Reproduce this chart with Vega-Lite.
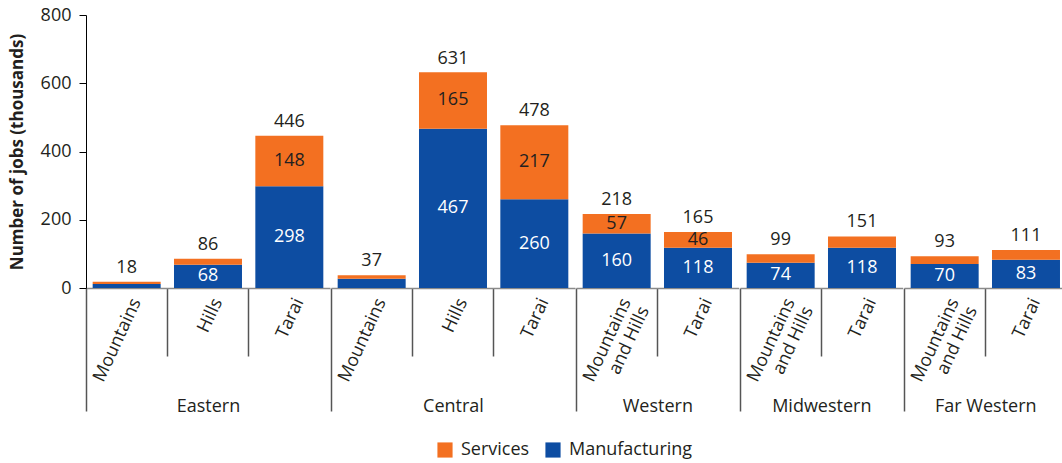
{
  "$schema": "https://vega.github.io/schema/vega-lite/v6.json",
  "padding": {"left": 8, "top": 6, "right": 0, "bottom": 0},
  "spacing": 0,
  "config": {
    "font": "Open Sans",
    "view": {"stroke": null},
    "axis": {"labelColor": "#231F20", "titleColor": "#231F20"},
    "axisX": {
      "labelFontSize": 18, "labelAngle": -65, "labelAlign": "right", "labelBaseline": "middle",
      "labelLineHeight": 20, "labelOffset": 10,
      "tickSize": {"condition": {"test": "indexof(['Mountains', 'Mountains and Hills'], datum.value) >= 0", "value": 123}, "value": 68},
      "labelPadding": {"condition": {"test": "indexof(['Mountains', 'Mountains and Hills'], datum.value) >= 0", "value": -112}, "value": -57},
      "tickColor": "#555555", "tickWidth": 1.5, "bandPosition": 0,
      "domainColor": "#8a8a8a", "domainWidth": 1.5,
      "titleFontSize": 18, "titleFontWeight": "normal", "titleBaseline": "alphabetic", "titleY": 123,
      "labelExpr": "datum.value == 'Mountains and Hills' ? ['Mountains', 'and Hills'] : datum.label"
    },
    "legend": {"labelFontSize": 18, "labelColor": "#231F20", "symbolType": "square", "symbolSize": 230, "symbolStrokeWidth": 0, "columnPadding": 14, "labelOffset": 7}
  },
  "data": {"values": [
    {"region": "Eastern", "area": "Mountains", "sector": "Manufacturing", "jobs": 12, "total": 18},
    {"region": "Eastern", "area": "Mountains", "sector": "Services", "jobs": 6, "total": 18},
    {"region": "Eastern", "area": "Hills", "sector": "Manufacturing", "jobs": 68, "total": 86},
    {"region": "Eastern", "area": "Hills", "sector": "Services", "jobs": 18, "total": 86},
    {"region": "Eastern", "area": "Tarai", "sector": "Manufacturing", "jobs": 298, "total": 446},
    {"region": "Eastern", "area": "Tarai", "sector": "Services", "jobs": 148, "total": 446},
    {"region": "Central", "area": "Mountains", "sector": "Manufacturing", "jobs": 27, "total": 37},
    {"region": "Central", "area": "Mountains", "sector": "Services", "jobs": 10, "total": 37},
    {"region": "Central", "area": "Hills", "sector": "Manufacturing", "jobs": 467, "total": 631},
    {"region": "Central", "area": "Hills", "sector": "Services", "jobs": 165, "total": 631},
    {"region": "Central", "area": "Tarai", "sector": "Manufacturing", "jobs": 260, "total": 478},
    {"region": "Central", "area": "Tarai", "sector": "Services", "jobs": 217, "total": 478},
    {"region": "Western", "area": "Mountains and Hills", "sector": "Manufacturing", "jobs": 160, "total": 218},
    {"region": "Western", "area": "Mountains and Hills", "sector": "Services", "jobs": 57, "total": 218},
    {"region": "Western", "area": "Tarai", "sector": "Manufacturing", "jobs": 118, "total": 165},
    {"region": "Western", "area": "Tarai", "sector": "Services", "jobs": 46, "total": 165},
    {"region": "Midwestern", "area": "Mountains and Hills", "sector": "Manufacturing", "jobs": 74, "total": 99},
    {"region": "Midwestern", "area": "Mountains and Hills", "sector": "Services", "jobs": 25, "total": 99},
    {"region": "Midwestern", "area": "Tarai", "sector": "Manufacturing", "jobs": 118, "total": 151},
    {"region": "Midwestern", "area": "Tarai", "sector": "Services", "jobs": 33, "total": 151},
    {"region": "Far Western", "area": "Mountains and Hills", "sector": "Manufacturing", "jobs": 70, "total": 93},
    {"region": "Far Western", "area": "Mountains and Hills", "sector": "Services", "jobs": 23, "total": 93},
    {"region": "Far Western", "area": "Tarai", "sector": "Manufacturing", "jobs": 83, "total": 111},
    {"region": "Far Western", "area": "Tarai", "sector": "Services", "jobs": 28, "total": 111}
  ]},
  "hconcat": [
    {
      "width": {"step": 81.33}, "height": 273,
      "transform": [{"filter": "datum.region == 'Eastern'"}],
      "encoding": {"x": {"field": "area", "type": "nominal", "sort": null, "scale": {"paddingInner": 0, "paddingOuter": 0}, "axis": {"title": "Eastern"}}},
      "layer": [
        {"mark": {"type": "bar", "width": {"band": 0.836}},
         "encoding": {
           "y": {"field": "jobs", "type": "quantitative", "stack": "zero", "scale": {"domain": [0, 800]},
                 "axis": {"title": "Number of jobs (thousands)", "values": [0, 200, 400, 600, 800], "grid": false, "tickSize": 7, "labelPadding": 8, "titlePadding": 14, "domainColor": "#000000", "tickColor": "#000000", "labelFontSize": 18, "titleFontSize": 17, "titleFontWeight": "bold"}},
           "order": {"field": "sector", "sort": "ascending"},
           "color": {"field": "sector", "type": "nominal", "scale": {"domain": ["Services", "Manufacturing"], "range": ["#F37021", "#0D4DA2"]}, "legend": {"title": null, "orient": "none", "direction": "horizontal", "legendX": 350, "legendY": 426}}
         }},
        {"mark": {"type": "text", "fontSize": 18, "baseline": "middle"},
         "transform": [{"filter": "datum.jobs >= 40"}],
         "encoding": {
           "y": {"field": "jobs", "type": "quantitative", "stack": "zero", "bandPosition": 0.5, "scale": {"domain": [0, 800]}},
           "detail": {"field": "sector"},
           "order": {"field": "sector", "sort": "ascending"},
           "text": {"field": "jobs", "type": "quantitative"},
           "color": {"condition": {"test": "datum.sector == 'Manufacturing'", "value": "#FFFFFF"}, "value": "#231F20"}
         }},
        {"mark": {"type": "text", "fontSize": 18, "baseline": "alphabetic", "dy": -9, "color": "#231F20"},
         "transform": [{"filter": "datum.sector == 'Manufacturing'"}],
         "encoding": {
           "y": {"field": "total", "type": "quantitative", "scale": {"domain": [0, 800]}},
           "text": {"field": "total", "type": "quantitative"}
         }}
      ]
    },
    {
      "width": {"step": 81.33}, "height": 273,
      "transform": [{"filter": "datum.region == 'Central'"}],
      "encoding": {"x": {"field": "area", "type": "nominal", "sort": null, "scale": {"paddingInner": 0, "paddingOuter": 0}, "axis": {"title": "Central"}}},
      "layer": [
        {"mark": {"type": "bar", "width": {"band": 0.836}},
         "encoding": {
           "y": {"field": "jobs", "type": "quantitative", "stack": "zero", "scale": {"domain": [0, 800]}, "axis": null},
           "order": {"field": "sector", "sort": "ascending"},
           "color": {"field": "sector", "type": "nominal", "scale": {"domain": ["Services", "Manufacturing"], "range": ["#F37021", "#0D4DA2"]}, "legend": {"title": null, "orient": "none", "direction": "horizontal", "legendX": 350, "legendY": 426}}
         }},
        {"mark": {"type": "text", "fontSize": 18, "baseline": "middle"},
         "transform": [{"filter": "datum.jobs >= 40"}],
         "encoding": {
           "y": {"field": "jobs", "type": "quantitative", "stack": "zero", "bandPosition": 0.5, "scale": {"domain": [0, 800]}, "axis": null},
           "detail": {"field": "sector"},
           "order": {"field": "sector", "sort": "ascending"},
           "text": {"field": "jobs", "type": "quantitative"},
           "color": {"condition": {"test": "datum.sector == 'Manufacturing'", "value": "#FFFFFF"}, "value": "#231F20"}
         }},
        {"mark": {"type": "text", "fontSize": 18, "baseline": "alphabetic", "dy": -9, "color": "#231F20"},
         "transform": [{"filter": "datum.sector == 'Manufacturing'"}],
         "encoding": {
           "y": {"field": "total", "type": "quantitative", "scale": {"domain": [0, 800]}, "axis": null},
           "text": {"field": "total", "type": "quantitative"}
         }}
      ]
    },
    {
      "width": {"step": 81.33}, "height": 273,
      "transform": [{"filter": "datum.region == 'Western'"}],
      "encoding": {"x": {"field": "area", "type": "nominal", "sort": null, "scale": {"paddingInner": 0, "paddingOuter": 0}, "axis": {"title": "Western"}}},
      "layer": [
        {"mark": {"type": "bar", "width": {"band": 0.836}},
         "encoding": {
           "y": {"field": "jobs", "type": "quantitative", "stack": "zero", "scale": {"domain": [0, 800]}, "axis": null},
           "order": {"field": "sector", "sort": "ascending"},
           "color": {"field": "sector", "type": "nominal", "scale": {"domain": ["Services", "Manufacturing"], "range": ["#F37021", "#0D4DA2"]}, "legend": {"title": null, "orient": "none", "direction": "horizontal", "legendX": 350, "legendY": 426}}
         }},
        {"mark": {"type": "text", "fontSize": 18, "baseline": "middle"},
         "transform": [{"filter": "datum.jobs >= 40"}],
         "encoding": {
           "y": {"field": "jobs", "type": "quantitative", "stack": "zero", "bandPosition": 0.5, "scale": {"domain": [0, 800]}, "axis": null},
           "detail": {"field": "sector"},
           "order": {"field": "sector", "sort": "ascending"},
           "text": {"field": "jobs", "type": "quantitative"},
           "color": {"condition": {"test": "datum.sector == 'Manufacturing'", "value": "#FFFFFF"}, "value": "#231F20"}
         }},
        {"mark": {"type": "text", "fontSize": 18, "baseline": "alphabetic", "dy": -9, "color": "#231F20"},
         "transform": [{"filter": "datum.sector == 'Manufacturing'"}],
         "encoding": {
           "y": {"field": "total", "type": "quantitative", "scale": {"domain": [0, 800]}, "axis": null},
           "text": {"field": "total", "type": "quantitative"}
         }}
      ]
    },
    {
      "width": {"step": 81.33}, "height": 273,
      "transform": [{"filter": "datum.region == 'Midwestern'"}],
      "encoding": {"x": {"field": "area", "type": "nominal", "sort": null, "scale": {"paddingInner": 0, "paddingOuter": 0}, "axis": {"title": "Midwestern"}}},
      "layer": [
        {"mark": {"type": "bar", "width": {"band": 0.836}},
         "encoding": {
           "y": {"field": "jobs", "type": "quantitative", "stack": "zero", "scale": {"domain": [0, 800]}, "axis": null},
           "order": {"field": "sector", "sort": "ascending"},
           "color": {"field": "sector", "type": "nominal", "scale": {"domain": ["Services", "Manufacturing"], "range": ["#F37021", "#0D4DA2"]}, "legend": {"title": null, "orient": "none", "direction": "horizontal", "legendX": 350, "legendY": 426}}
         }},
        {"mark": {"type": "text", "fontSize": 18, "baseline": "middle"},
         "transform": [{"filter": "datum.jobs >= 40"}],
         "encoding": {
           "y": {"field": "jobs", "type": "quantitative", "stack": "zero", "bandPosition": 0.5, "scale": {"domain": [0, 800]}, "axis": null},
           "detail": {"field": "sector"},
           "order": {"field": "sector", "sort": "ascending"},
           "text": {"field": "jobs", "type": "quantitative"},
           "color": {"condition": {"test": "datum.sector == 'Manufacturing'", "value": "#FFFFFF"}, "value": "#231F20"}
         }},
        {"mark": {"type": "text", "fontSize": 18, "baseline": "alphabetic", "dy": -9, "color": "#231F20"},
         "transform": [{"filter": "datum.sector == 'Manufacturing'"}],
         "encoding": {
           "y": {"field": "total", "type": "quantitative", "scale": {"domain": [0, 800]}, "axis": null},
           "text": {"field": "total", "type": "quantitative"}
         }}
      ]
    },
    {
      "width": {"step": 81.33}, "height": 273,
      "transform": [{"filter": "datum.region == 'Far Western'"}],
      "encoding": {"x": {"field": "area", "type": "nominal", "sort": null, "scale": {"paddingInner": 0, "paddingOuter": 0}, "axis": {"title": "Far Western"}}},
      "layer": [
        {"mark": {"type": "bar", "width": {"band": 0.836}},
         "encoding": {
           "y": {"field": "jobs", "type": "quantitative", "stack": "zero", "scale": {"domain": [0, 800]}, "axis": null},
           "order": {"field": "sector", "sort": "ascending"},
           "color": {"field": "sector", "type": "nominal", "scale": {"domain": ["Services", "Manufacturing"], "range": ["#F37021", "#0D4DA2"]}, "legend": {"title": null, "orient": "none", "direction": "horizontal", "legendX": 350, "legendY": 426}}
         }},
        {"mark": {"type": "text", "fontSize": 18, "baseline": "middle"},
         "transform": [{"filter": "datum.jobs >= 40"}],
         "encoding": {
           "y": {"field": "jobs", "type": "quantitative", "stack": "zero", "bandPosition": 0.5, "scale": {"domain": [0, 800]}, "axis": null},
           "detail": {"field": "sector"},
           "order": {"field": "sector", "sort": "ascending"},
           "text": {"field": "jobs", "type": "quantitative"},
           "color": {"condition": {"test": "datum.sector == 'Manufacturing'", "value": "#FFFFFF"}, "value": "#231F20"}
         }},
        {"mark": {"type": "text", "fontSize": 18, "baseline": "alphabetic", "dy": -9, "color": "#231F20"},
         "transform": [{"filter": "datum.sector == 'Manufacturing'"}],
         "encoding": {
           "y": {"field": "total", "type": "quantitative", "scale": {"domain": [0, 800]}, "axis": null},
           "text": {"field": "total", "type": "quantitative"}
         }}
      ]
    }
  ]
}
